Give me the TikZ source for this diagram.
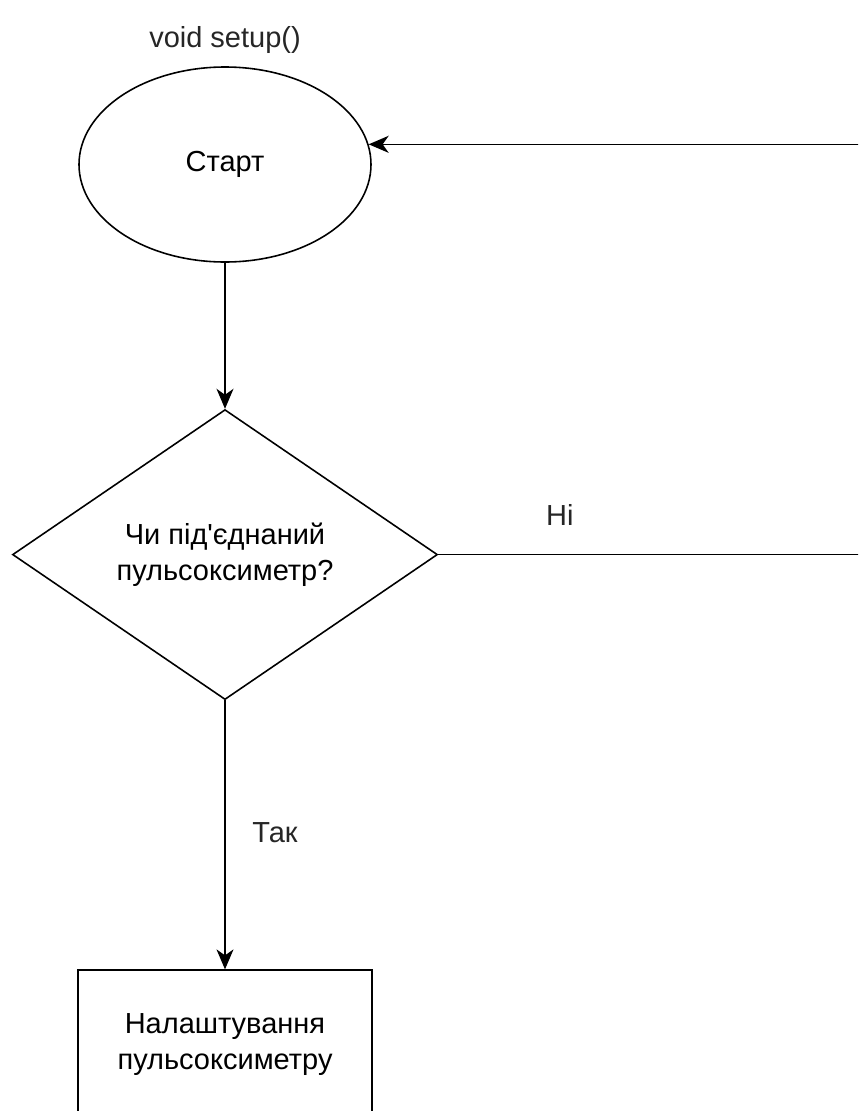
\documentclass[tikz,border=0pt]{standalone}
\usepackage{fontspec}
\setmainfont{Liberation Sans}[Ligatures=TeXOff]
\usetikzlibrary{arrows.meta, positioning, shapes.geometric, calc}
\newcommand{\flowfont}{\fontsize{16.5}{20.5}\selectfont}
\tikzset{
  startend/.style={ellipse, draw=black, line width=0.9pt, fill=white,
    minimum width=5.84cm, minimum height=3.9cm, align=center, font=\flowfont},
  decision/.style={diamond, draw=black, line width=0.9pt, fill=white,
    minimum width=8.5cm, minimum height=5.8cm, aspect=1.47, inner sep=0pt,
    align=center, font=\flowfont},
  process/.style={rectangle, draw=black, line width=0.9pt, fill=white,
    minimum width=5.88cm, minimum height=2.96cm, align=center, font=\flowfont},
  caption/.style={font=\flowfont, text=black!85},
  arrow/.style={-{Stealth[length=4mm, width=3.4mm, inset=1.2mm]}, line width=0.9pt},
  link/.style={line width=0.9pt},
}
\begin{document}
\begin{tikzpicture}
\path[use as bounding box, clip] (0,0) rectangle (17.16,-22.22);
\node[caption] (title) at (4.5,-0.8) {void setup()};
\node[startend] (start) at (4.5,-3.29) {Старт};
\node[decision, below=2.92cm of start] (check) {Чи під'єднаний\\пульсоксиметр?};
\node[process, below=5.38cm of check] (sensor) {Налаштування\\пульсоксиметру};
\coordinate (noEnd) at ($(check.east)+(9,0)$);
\coordinate (backStart) at (start.8.6 -| noEnd);
\draw[arrow] (start) -- (check);
\draw[link] (check.east) -- node[caption, pos=0.27, yshift=0.8cm]{Ні} (noEnd);
\draw[arrow] (backStart) -- (start.8.6);
\draw[arrow] (check) -- node[caption, pos=0.49, xshift=1cm]{Так} (sensor);
\end{tikzpicture}
\end{document}
